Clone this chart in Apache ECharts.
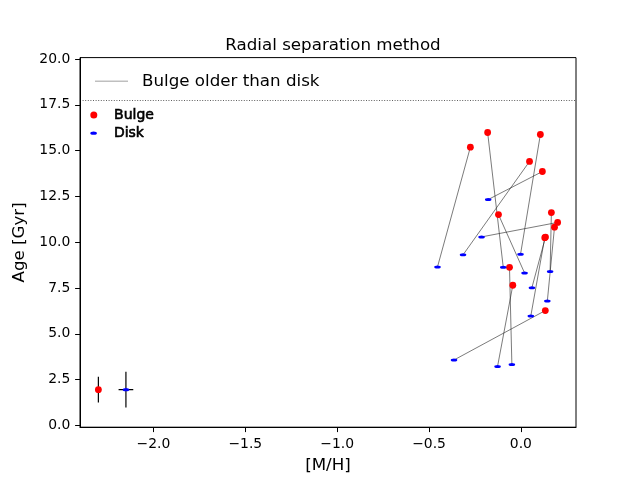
<!DOCTYPE html>
<html>
<head>
<meta charset="utf-8">
<script src="https://cdn.jsdelivr.net/npm/echarts@6/dist/echarts.min.js"></script>
<style>html,body{margin:0;padding:0;background:#fff}#c{width:640px;height:480px}</style>
</head>
<body>
<div id="c"></div>
<script>
// Bulge values (metallicity [M/H], age [Gyr])
const bulgeMH  = [-0.275, -0.181, 0.106, 0.047, 0.117, -0.122, 0.166, 0.200, 0.183, 0.134, 0.130, -0.062, -0.044, 0.133];
const bulgeAge = [15.19, 15.99, 15.88, 14.41, 13.86, 11.51, 11.62, 11.08, 10.82, 10.28, 10.25, 8.63, 7.65, 6.27];
// Disk values, paired with the bulge of the same index
const diskMH   = [-0.454, -0.096, -0.002, -0.315, -0.178, 0.020, 0.159, -0.214, 0.144, 0.060, 0.054, -0.049, -0.127, -0.364];
const diskAge  = [8.65, 8.63, 9.34, 9.31, 12.33, 8.32, 8.40, 10.29, 6.79, 7.52, 5.97, 3.33, 3.22, 3.57];
// Typical error bars (bulge, disk)
const errMH     = [-2.30, -2.15];
const errAge    = [1.95, 1.95];
const errMHerr  = [0.015, 0.04];
const errAgeErr = [0.70, 0.98];
// Reference line
const refAge = 17.75;
// Axis ticks
const xTicks = [-2.0, -1.5, -1.0, -0.5, 0.0];
const yTicks = [0, 2.5, 5, 7.5, 10, 12.5, 15, 17.5, 20];

const FONT = 'DejaVu Sans';
const ellipse = 'path://M0,1a2,1 0 1,0 4,0a2,1 0 1,0 -4,0';
const fmt = v => (v < 0 ? '\u2212' : '') + Math.abs(v).toFixed(1);

const connect = [];
for (let i = 0; i < bulgeMH.length; i++) {
  connect.push([bulgeMH[i], bulgeAge[i]], [diskMH[i], diskAge[i]], '-');
}
const errSegs = [];
for (let i = 0; i < errMH.length; i++) {
  errSegs.push([errMH[i], errAge[i] - errAgeErr[i]], [errMH[i], errAge[i] + errAgeErr[i]], '-');
  errSegs.push([errMH[i] - errMHerr[i], errAge[i]], [errMH[i] + errMHerr[i], errAge[i]], '-');
}

const chart = echarts.init(document.getElementById('c'), null, {renderer: 'canvas'});
chart.setOption({
  animation: false,
  backgroundColor: '#fff',
  title: {
    text: 'Radial separation method',
    left: 328, top: 31, textAlign: 'center',
    textStyle: {fontFamily: FONT, fontSize: 16.7, fontWeight: 'normal', color: '#000', lineHeight: 20}
  },
  grid: {left: 80, right: 64, top: 57.6, bottom: 52.8, show: true, borderColor: '#000', borderWidth: 1, backgroundColor: 'transparent'},
  legend: [
    {
      data: [{name: 'Bulge older than disk', icon: 'rect'}],
      left: 95, top: 71.2, padding: 0,
      itemWidth: 33, itemHeight: 1.5,
      textStyle: {fontFamily: FONT, fontSize: 16.7, color: '#000', lineHeight: 20, padding: [0, 0, 0, 9]},
      selectedMode: false
    },
    {
      data: [{name: 'Bulge', icon: 'circle'}],
      left: 90.3, top: 107.6, padding: 0,
      itemWidth: 14, itemHeight: 7,
      textStyle: {fontFamily: FONT, fontSize: 14, color: '#000', lineHeight: 14, padding: [0, 0, 0, 8.3], textBorderColor: '#000', textBorderWidth: 0.6},
      selectedMode: false
    },
    {
      data: [{name: 'Disk', icon: ellipse}],
      left: 90.3, top: 125.9, padding: 0,
      itemWidth: 14, itemHeight: 3.3, symbolKeepAspect: true,
      textStyle: {fontFamily: FONT, fontSize: 14, color: '#000', lineHeight: 14, padding: [0, 0, 0, 8.3], textBorderColor: '#000', textBorderWidth: 0.6},
      selectedMode: false
    }
  ],
  xAxis: {
    type: 'value', min: -2.4, max: 0.3,
    name: '[M/H]', nameLocation: 'middle', nameGap: 29.5,
    nameTextStyle: {fontFamily: FONT, fontSize: 16.7, color: '#000'},
    axisLine: {show: true, onZero: false, lineStyle: {color: '#000', width: 1}},
    axisTick: {show: true, inside: false, length: 4.9, customValues: xTicks, lineStyle: {color: '#000', width: 1}},
    axisLabel: {show: true, margin: 9.7, customValues: xTicks, formatter: fmt, fontFamily: FONT, fontSize: 13.9, color: '#000'},
    splitLine: {show: false}
  },
  yAxis: {
    type: 'value', min: -0.1, max: 20.08,
    name: 'Age [Gyr]', nameLocation: 'middle', nameGap: 46, nameRotate: 90,
    nameTextStyle: {fontFamily: FONT, fontSize: 16.7, color: '#000'},
    axisLine: {show: true, onZero: false, lineStyle: {color: '#000', width: 1}},
    axisTick: {show: true, inside: false, length: 4.9, customValues: yTicks, lineStyle: {color: '#000', width: 1}},
    axisLabel: {show: true, margin: 9.7, customValues: yTicks, formatter: fmt, fontFamily: FONT, fontSize: 13.9, color: '#000'},
    splitLine: {show: false}
  },
  series: [
    {
      name: 'Bulge older than disk', type: 'line', data: [],
      itemStyle: {color: '#bfbfbf'}, lineStyle: {color: '#bfbfbf', width: 1.5}, symbol: 'none',
      markLine: {
        silent: true, symbol: ['none', 'none'], label: {show: false},
        lineStyle: {color: '#000', width: 0.7, type: [1, 1.6], opacity: 0.9},
        data: [{yAxis: refAge}]
      }
    },
    {
      name: 'pairs', type: 'line', data: connect, connectNulls: false,
      symbol: 'none', lineStyle: {color: '#222', width: 0.6, opacity: 1}, z: 2, silent: true
    },
    {
      name: 'errors', type: 'line', data: errSegs, connectNulls: false,
      symbol: 'none', lineStyle: {color: '#000', width: 1.2}, z: 2, silent: true
    },
    {
      name: 'Bulge', type: 'scatter', symbol: 'circle', symbolSize: 6.8,
      itemStyle: {color: '#ff0000', opacity: 1},
      data: bulgeMH.map((x, i) => [x, bulgeAge[i]]), z: 3
    },
    {
      name: 'Disk', type: 'scatter', symbol: ellipse, symbolSize: [6.5, 3],
      itemStyle: {color: '#0000ff', opacity: 1},
      data: diskMH.map((x, i) => [x, diskAge[i]]), z: 3
    },
    {
      name: 'Bulge error', type: 'scatter', symbol: 'circle', symbolSize: 6.8,
      itemStyle: {color: '#ff0000', opacity: 1},
      data: [[errMH[0], errAge[0]]], z: 4
    },
    {
      name: 'Disk error', type: 'scatter', symbol: ellipse, symbolSize: [6.5, 3.2],
      itemStyle: {color: '#0000ff', opacity: 1},
      data: [[errMH[1], errAge[1]]], z: 4
    }
  ]
});
</script>
</body>
</html>
